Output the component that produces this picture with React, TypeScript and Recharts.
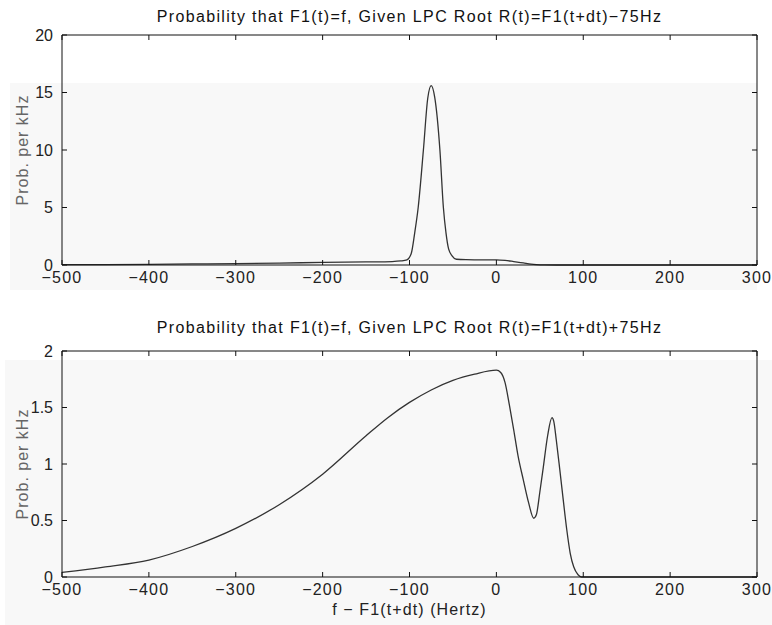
import React from 'react';
import { LineChart, Line, XAxis, YAxis, Label } from 'recharts';

const xTicks = [-500, -400, -300, -200, -100, 0, 100, 200, 300];
const topYTicks = [0, 5, 10, 15, 20];
const bottomYTicks = [0, 0.5, 1, 1.5, 2];

// P(F1(t)=f | root at F1(t+dt) - 75Hz)
const topX = [-500, -450, -400, -350, -300, -250, -200, -150, -120, -110, -103, -98, -94, -90, -84, -79, -75, -71, -65, -61, -58, -55, -51, -46, -35, -20, 0, 10, 20, 31, 40, 46, 55, 70, 100, 200, 300];
const topY = [0.03, 0.04, 0.06, 0.09, 0.12, 0.17, 0.22, 0.27, 0.3, 0.35, 0.45, 1.0, 2.8, 5, 10, 14.5, 15.6, 14.6, 10, 5, 2.8, 1.4, 0.8, 0.5, 0.46, 0.45, 0.45, 0.4, 0.3, 0.18, 0.08, 0.04, 0.01, 0, 0, 0, 0];

// P(F1(t)=f | root at F1(t+dt) + 75Hz)
const bottomX = [-500, -450, -400, -350, -300, -250, -200, -150, -125, -100, -75, -50, -25, 0, 5, 10, 15, 20, 25, 31, 37, 43, 46, 50, 54, 59, 64, 66, 69, 73, 77, 81, 85, 89, 94, 98, 150, 300];
const bottomY = [0.04, 0.09, 0.15, 0.27, 0.43, 0.64, 0.91, 1.25, 1.41, 1.545, 1.655, 1.74, 1.795, 1.83, 1.81, 1.72, 1.52, 1.3, 1.07, 0.86, 0.66, 0.52, 0.55, 0.75, 0.97, 1.25, 1.41, 1.38, 1.21, 0.95, 0.68, 0.42, 0.21, 0.09, 0.02, 0, 0, 0];

const topData = topX.map((x, i) => ({ x, y: topY[i] }));
const bottomData = bottomX.map((x, i) => ({ x, y: bottomY[i] }));

const FONT = '"Liberation Sans", Arial, sans-serif';
const minus = (v: number) => String(v).replace('-', '\u2212');
const blank = () => '';
const xTickStyle = { fill: '#222', fontSize: 16, fontFamily: FONT, letterSpacing: 1.2 };
const yTickStyle = { fill: '#222', fontSize: 16, fontFamily: FONT };

interface PanelProps {
  data: { x: number; y: number }[];
  yTicks: number[];
  yMax: number;
  height: number;
  bottom: number;
  xLabel?: string;
}

function Panel({ data, yTicks, yMax, height, bottom, xLabel }: PanelProps) {
  return (
    <LineChart width={772} height={height} data={data} margin={{ top: 34, right: 14, left: 0, bottom }}>
      <XAxis
        dataKey="x"
        type="number"
        domain={[-500, 300]}
        ticks={xTicks}
        allowDataOverflow
        tickFormatter={minus}
        tickSize={-5}
        tickMargin={12}
        height={30}
        stroke="#111"
        tick={xTickStyle}
      >
        {xLabel && (
          <Label value={xLabel} position="bottom" offset={-3} fill="#222" fontSize={16} fontFamily={FONT} letterSpacing={1.1} />
        )}
      </XAxis>
      <XAxis
        xAxisId="top"
        dataKey="x"
        type="number"
        orientation="top"
        domain={[-500, 300]}
        ticks={xTicks}
        tickFormatter={blank}
        tickSize={-5}
        height={1}
        stroke="#111"
      />
      <YAxis
        type="number"
        domain={[0, yMax]}
        ticks={yTicks}
        tickSize={-5}
        tickMargin={14}
        width={62}
        stroke="#111"
        tick={yTickStyle}
      >
        <Label
          value="Prob. per kHz"
          angle={-90}
          position="insideLeft"
          offset={22}
          fill="#666"
          fontSize={16}
          fontFamily={FONT}
          letterSpacing={1}
          style={{ textAnchor: 'middle' }}
        />
      </YAxis>
      <YAxis
        yAxisId="right"
        orientation="right"
        type="number"
        domain={[0, yMax]}
        ticks={yTicks}
        tickFormatter={blank}
        tickSize={-5}
        width={1}
        stroke="#111"
      />
      <Line
        dataKey="y"
        type="monotone"
        stroke="#333"
        strokeWidth={1.3}
        dot={false}
        isAnimationActive={false}
      />
      <Line
        xAxisId="top"
        yAxisId="right"
        dataKey="y"
        stroke="none"
        dot={false}
        activeDot={false}
        isAnimationActive={false}
      />
    </LineChart>
  );
}

const titleStyle: React.CSSProperties = {
  position: 'absolute',
  left: 62,
  width: 695,
  textAlign: 'center',
  fontFamily: FONT,
  fontSize: 16,
  letterSpacing: 1.35,
  color: '#111',
  lineHeight: '18px',
};

export default function App() {
  return (
    <div style={{ position: 'absolute', left: 0, top: 0, width: 772, height: 625, background: '#fff', overflow: 'hidden' }}>
      <div style={{ position: 'absolute', left: 10, top: 83, width: 747, height: 207, background: '#f8f8f8' }} />
      <div style={{ position: 'absolute', left: 5, top: 360, width: 767, height: 265, background: '#f8f8f8' }} />
      <div style={{ ...titleStyle, top: 8 }}>Probability that F1(t)=f, Given LPC Root R(t)=F1(t+dt)−75Hz</div>
      <div style={{ ...titleStyle, top: 319 }}>Probability that F1(t)=f, Given LPC Root R(t)=F1(t+dt)+75Hz</div>
      <div style={{ position: 'absolute', left: 0, top: 0 }}>
        <Panel data={topData} yTicks={topYTicks} yMax={20} height={300} bottom={5} />
      </div>
      <div style={{ position: 'absolute', left: 0, top: 316 }}>
        <Panel data={bottomData} yTicks={bottomYTicks} yMax={2} height={309} bottom={18} xLabel="f − F1(t+dt) (Hertz)" />
      </div>
    </div>
  );
}
